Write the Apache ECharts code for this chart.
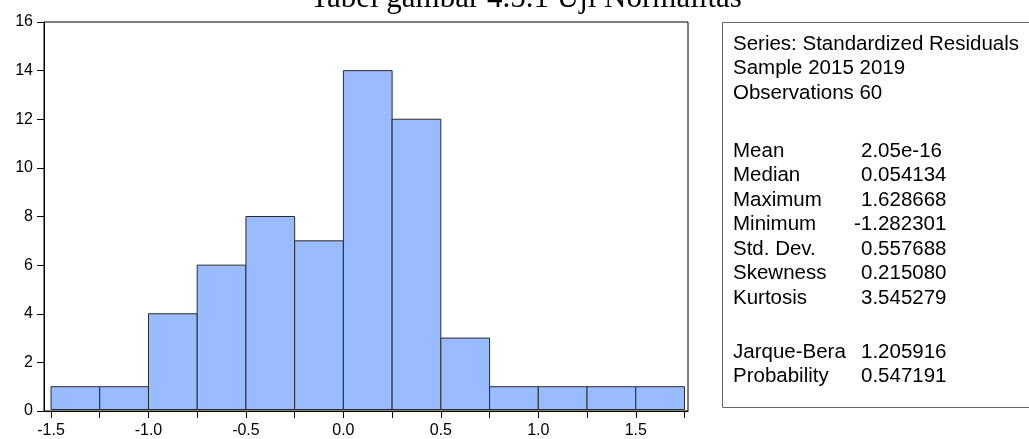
<!DOCTYPE html>
<html>
<head>
<meta charset="utf-8">
<script src="https://cdn.jsdelivr.net/npm/echarts@6/dist/echarts.min.js"></script>
<style>
  html, body { margin: 0; padding: 0; background: #fff; }
  #chart { width: 1029px; height: 439px; }
</style>
</head>
<body>
<div id="chart"></div>
<script>
const binStarts = [-1.5, -1.25, -1.0, -0.75, -0.5, -0.25, 0.0, 0.25, 0.5, 0.75, 1.0, 1.25, 1.5];
const binWidth = 0.25;
const counts = [1, 1, 4, 6, 8, 7, 14, 12, 3, 1, 1, 1, 1];
const xLabels = [-1.5, -1.0, -0.5, 0.0, 0.5, 1.0, 1.5];
const xTicks = [-1.5, -1.25, -1.0, -0.75, -0.5, -0.25, 0.0, 0.25, 0.5, 0.75, 1.0, 1.25, 1.5, 1.75];

const titleText = 'Tabel gambar 4.5.1 Uji Normalitas';
const headLines = ['Series: Standardized Residuals', 'Sample 2015 2019', 'Observations 60'];
const statLabels = ['Mean', 'Median', 'Maximum', 'Minimum', 'Std. Dev.', 'Skewness', 'Kurtosis'];
const statValues = ['2.05e-16', '0.054134', '1.628668', '-1.282301', '0.557688', '0.215080', '3.545279'];
const testLabels = ['Jarque-Bera', 'Probability'];
const testValues = ['1.205916', '0.547191'];

const chart = echarts.init(document.getElementById('chart'));
const font = '20.5px Arial, sans-serif';
const lineH = 24.5;

const texts = [];
const addLine = (label, value, y) => {
  texts.push({ type: 'text', style: { text: label, x: 733, y: y, font: font, fill: '#000', textVerticalAlign: 'middle' } });
  if (value !== null) {
    texts.push({ type: 'text', style: { text: value, x: value.startsWith('-') ? 854 : 861, y: y, font: font, fill: '#000', textVerticalAlign: 'middle' } });
  }
};
headLines.forEach((t, i) => addLine(t, null, 44 + i * lineH));
statLabels.forEach((t, i) => addLine(t, statValues[i], 151 + i * lineH));
testLabels.forEach((t, i) => addLine(t, testValues[i], 352 + i * lineH));

const axisText = { color: '#000', fontSize: 16, fontFamily: 'Arial' };

chart.setOption({
  animation: false,
  textStyle: { fontFamily: 'Arial', fontSize: 16 },
  grid: {
    left: 44, right: 341, top: 22, bottom: 28,
    show: true, borderColor: '#000', borderWidth: 1
  },
  xAxis: {
    type: 'value',
    min: -1.536,
    max: 1.768,
    axisLine: { onZero: false, lineStyle: { color: '#000' } },
    axisTick: { show: true, length: 7, customValues: xTicks, lineStyle: { color: '#000' } },
    axisLabel: Object.assign({
      customValues: xLabels,
      formatter: (v) => v.toFixed(1),
      margin: 12
    }, axisText),
    splitLine: { show: false }
  },
  yAxis: {
    type: 'value',
    min: 0, max: 16, interval: 2,
    axisLine: { show: true, onZero: false, lineStyle: { color: '#000' } },
    axisTick: { show: true, length: 7, lineStyle: { color: '#000' } },
    axisLabel: Object.assign({ margin: 11 }, axisText),
    splitLine: { show: false }
  },
  series: [{
    type: 'custom',
    renderItem: (params, api) => {
      const start = api.value(0);
      const c = api.value(1);
      const p0 = api.coord([start, c]);
      const p1 = api.coord([start + binWidth, 0]);
      return {
        type: 'rect',
        shape: { x: p0[0], y: p0[1], width: p1[0] - p0[0], height: p1[1] - p0[1] - 1.5 },
        style: { fill: '#99bbff', stroke: '#2b2b2b', lineWidth: 1 }
      };
    },
    encode: { x: 0, y: 1 },
    data: binStarts.map((s, i) => [s, counts[i]])
  }],
  graphic: [
    {
      type: 'text',
      style: { text: titleText, x: 526, y: -1, font: '31px "Liberation Serif", "Times New Roman", serif', fill: '#000', textAlign: 'center', textVerticalAlign: 'middle' }
    },
    {
      type: 'rect',
      shape: { x: 722.5, y: 22.5, width: 320, height: 385 },
      style: { fill: 'none', stroke: '#666', lineWidth: 1 }
    }
  ].concat(texts)
});
</script>
</body>
</html>
